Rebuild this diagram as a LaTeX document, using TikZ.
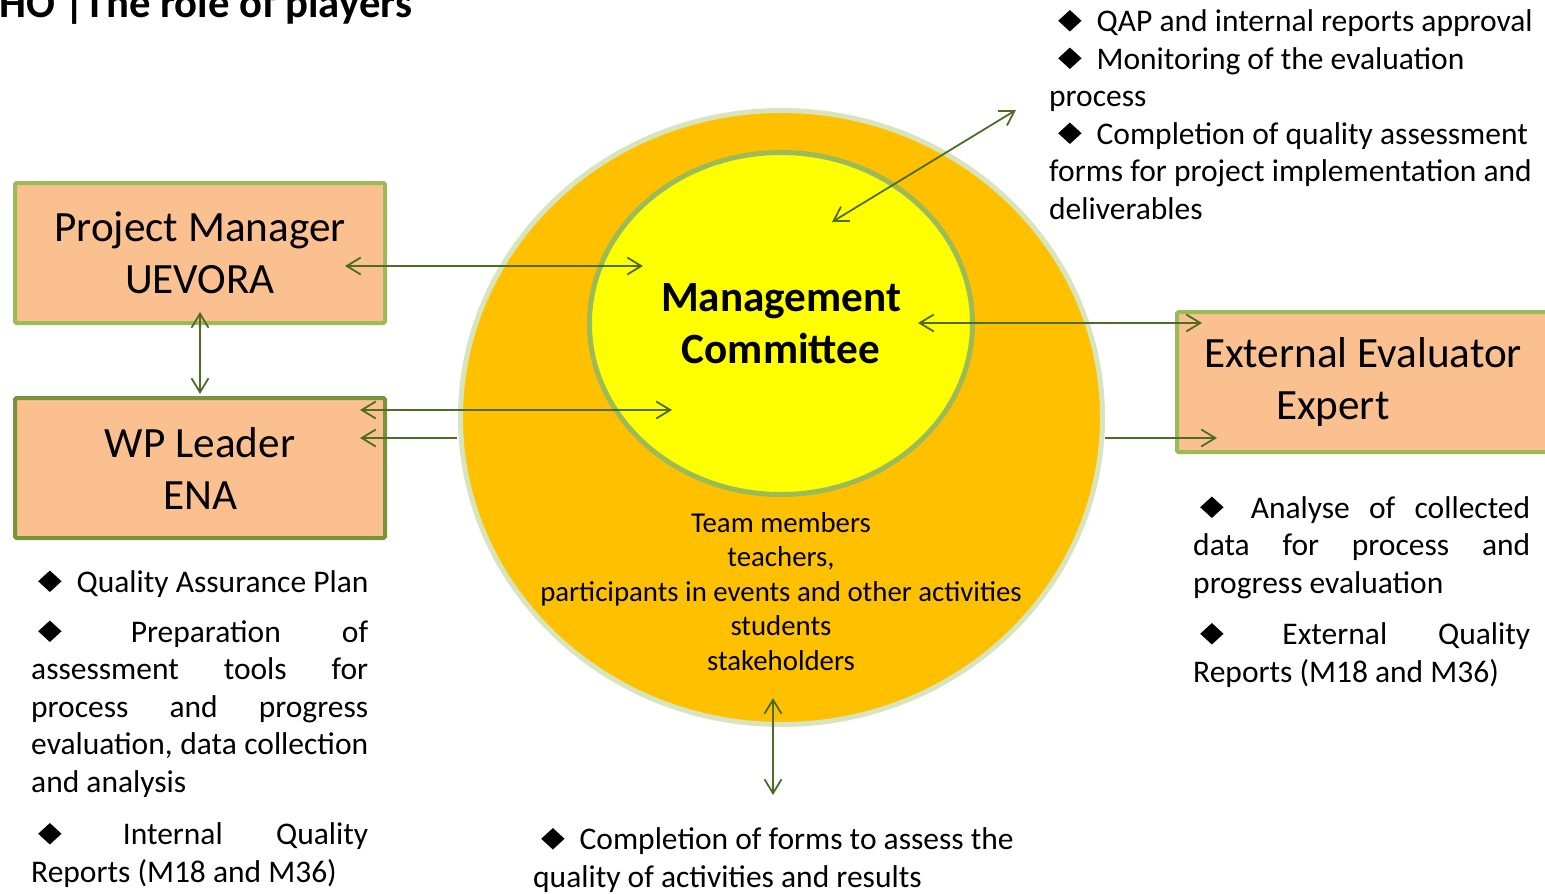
\documentclass[tikz,border=0pt]{standalone}
\usepackage{fontspec}
\setmainfont{Carlito}
\usepackage{graphicx}
\usepackage[dvipsnames]{xcolor}
\usetikzlibrary{arrows.meta,shapes.geometric}

\definecolor{boxfill}{HTML}{FAC090}
\definecolor{boxline}{HTML}{9BBB59}
\definecolor{boxlinedark}{HTML}{77933C}
\definecolor{ringfill}{HTML}{FFC000}
\definecolor{ringline}{HTML}{D7E4BD}
\definecolor{corefill}{HTML}{FFFF00}
\definecolor{linkcol}{HTML}{4F6B28}

% black diamond bullet, and a line stretched to a given width
\newcommand{\bul}{\scalebox{1}[0.92]{\rotatebox{45}{\rule{16.5pt}{16.5pt}}}\hspace{8pt}}
\newcommand{\jline}[1]{\makebox[337pt][s]{#1}}

\tikzset{
	role/.style={draw=boxline, line width=4pt, fill=boxfill, rounded corners=1.5pt, inner sep=0pt, align=center, font=\fontsize{43.2}{52}\selectfont},
	notes/.style={anchor=base west, inner sep=0pt, align=left, font=\fontsize{31.5}{37.5}\selectfont},
	link/.style={draw=linkcol, line width=1.8pt, {Straight Barb[length=14pt,width=17pt]}-{Straight Barb[length=14pt,width=17pt]}},
	onelink/.style={draw=linkcol, line width=1.8pt, -{Straight Barb[length=14pt,width=17pt]}}
}

\begin{document}
\begin{tikzpicture}[x=1pt,y=-1pt]
	\useasboundingbox (0,0) rectangle (1545,894);

	% the two circles
	\node[ellipse, draw=ringline, line width=5pt, fill=ringfill, minimum width=642, minimum height=614, inner sep=0pt] (ring) at (781.5,417.5) {};
	\node[ellipse, draw=boxline, line width=5pt, fill=corefill, minimum width=383, minimum height=342, inner sep=0pt] (core) at (781,323.5) {};
	\node[align=center, inner sep=0pt, font=\bfseries\fontsize{43.2}{52}\selectfont] (mc) at (781,324) {Management\\Committee};
	\node[align=center, inner sep=0pt, anchor=base, font=\fontsize{28.8}{34.5}\selectfont] (team) at (781,670) {Team members\\teachers,\\participants in events and other activities\\students\\stakeholders};

	% the players
	\node[role, minimum width=370, minimum height=140] (pm) at (200,253) {Project Manager\\UEVORA};
	\node[role, draw=boxlinedark, minimum width=370, minimum height=140] (wp) at (200,468) {WP Leader\\ENA};
	\node[role, align=left, minimum width=372, minimum height=140] (ext) at (1363,382) {External Evaluator\\\hspace*{72pt}Expert};

	% arrow ends
	\coordinate (pmA) at (345,266); \coordinate (pmB) at (643,266);
	\coordinate (pmC) at (200,312); \coordinate (wpC) at (200,394);
	\coordinate (wpA) at (360,410); \coordinate (wpB) at (672,410);
	\coordinate (ringW) at (457,438); \coordinate (wpD) at (360,438);
	\coordinate (extA) at (918,323); \coordinate (extB) at (1202,323);
	\coordinate (ringE) at (1105,438); \coordinate (extC) at (1217,438);
	\coordinate (topA) at (832,222); \coordinate (topB) at (1016,110);
	\coordinate (botA) at (773,698); \coordinate (botB) at (773,795);

	\draw[link] (pmA) -- (pmB);
	\draw[link] (pmC) -- (wpC);
	\draw[link] (wpA) -- (wpB);
	\draw[onelink] (ringW) -- (wpD);
	\draw[link] (extA) -- (extB);
	\draw[onelink] (ringE) -- (extC);
	\draw[link] (topA) -- (topB);
	\draw[link] (botA) -- (botB);

	% tasks of each player
	\node[anchor=base west, inner sep=0pt, font=\bfseries\fontsize{42.7}{50}\selectfont] (title) at (-1,17) {HO |The role of players};
	\node[notes] (mcnotes) at (1049,219) {\hspace*{9pt}\bul{} QAP and internal reports approval\\
		\hspace*{9pt}\bul{} Monitoring of the evaluation\\
		process\\
		\hspace*{9pt}\bul{} Completion of quality assessment\\
		forms for project implementation and\\
		deliverables};
	\node[notes] (wpnotes) at (31,882) {\hspace*{7pt}\bul{} Quality Assurance Plan\\[12.5pt]
		\jline{\hspace*{7pt}\bul{} Preparation of}\\
		\jline{assessment tools for}\\
		\jline{process and progress}\\
		\jline{evaluation, data collection}\\
		and analysis\\[15pt]
		\jline{\hspace*{7pt}\bul{} Internal Quality}\\
		Reports (M18 and M36)};
	\node[notes] (extnotes) at (1193,682) {\jline{\hspace*{7pt}\bul{} Analyse of collected}\\
		\jline{data for process and}\\
		progress evaluation\\[14pt]
		\jline{\hspace*{7pt}\bul{} External Quality}\\
		Reports (M18 and M36)};
	\node[notes] (teamnotes) at (533,887) {\hspace*{8pt}\bul{} Completion of forms to assess the\\
		quality of activities and results};
\end{tikzpicture}
\end{document}
